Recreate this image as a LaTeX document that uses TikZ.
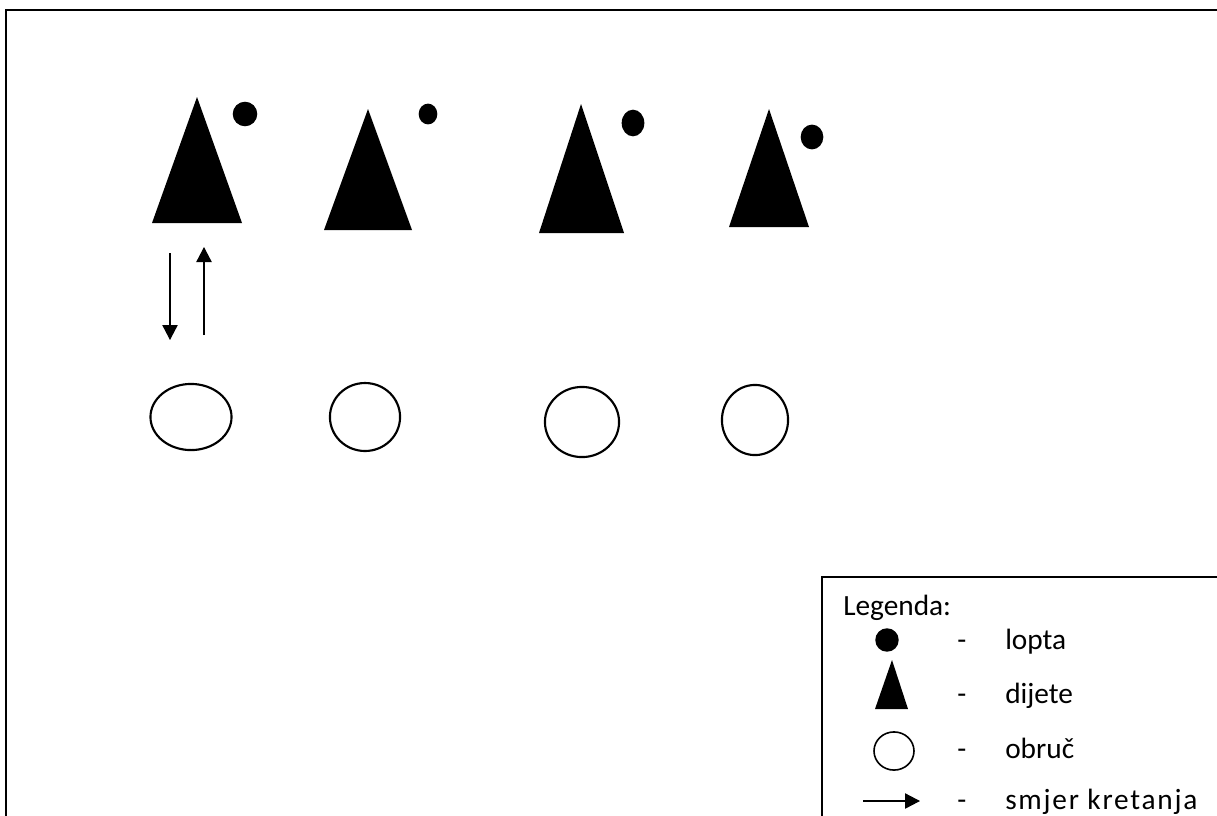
\documentclass[tikz,border=0pt]{standalone}
\usepackage{fontspec}
\setmainfont{Carlito}
\usetikzlibrary{arrows.meta}
\begin{document}
\begin{tikzpicture}[x=0.75pt,y=-0.75pt,
  child/.style={fill=black},
  ball/.style={fill=black},
  hoop/.style={draw=black,line width=1.6pt},
  move/.style={line width=0.9pt,-{Triangle[length=11.25pt,width=11.5pt]}},
  lbl/.style={anchor=base west,font=\fontsize{22}{26}\selectfont,inner sep=0pt}]
\useasboundingbox (0,0) rectangle (1217,815);
\begin{scope}
\clip (0,0) rectangle (1217,815);
\draw[line width=1.8pt] (6,10) rectangle (1240,840);
\draw[line width=1.2pt] (822,577) rectangle (1240,840);
\end{scope}
% children
\fill[child] (197,97) -- (242,223) -- (152,223) -- cycle;
\fill[child] (368,109) -- (412,230) -- (324,230) -- cycle;
\fill[child] (581,104) -- (624,233) -- (539,233) -- cycle;
\fill[child] (769,109) -- (809,227) -- (729,227) -- cycle;
% balls
\fill[ball] (245,114) ellipse[x radius=9.2pt, y radius=9.2pt];
\fill[ball] (428,114) ellipse[x radius=7pt, y radius=7.8pt];
\fill[ball] (633,123) ellipse[x radius=8.5pt, y radius=10pt];
\fill[ball] (812,137) ellipse[x radius=8.5pt, y radius=9.3pt];
% hoops
\draw[hoop] (191,417) ellipse[x radius=30.4pt, y radius=24.8pt];
\draw[hoop] (365,417) ellipse[x radius=26.3pt, y radius=25.5pt];
\draw[hoop] (582,422) ellipse[x radius=27.8pt, y radius=26.3pt];
\draw[hoop] (755,420) ellipse[x radius=24.8pt, y radius=26.3pt];
% movement arrows
\coordinate (d1) at (170,253);
\coordinate (d2) at (170,340);
\coordinate (u1) at (204,335);
\coordinate (u2) at (204,247);
\draw[move] (d1) -- (d2);
\draw[move] (u1) -- (u2);
% legend
\node[lbl] (leg) at (843,615) {Legenda:};
\fill[ball] (887,640) ellipse[x radius=8.8pt, y radius=8.8pt];
\fill[child] (892,660) -- (908,709) -- (875,709) -- cycle;
\draw[hoop,line width=1.2pt] (894,751) ellipse[x radius=15pt, y radius=14.3pt];
\coordinate (la1) at (863,801);
\coordinate (la2) at (920,801);
\draw[move] (la1) -- (la2);
\node[lbl] (h1) at (957,649) {-};
\node[lbl] (h2) at (957,703) {-};
\node[lbl] (h3) at (957,758) {-};
\node[lbl] (h4) at (957,809) {-};
\node[lbl] (t1) at (1005,649) {lopta};
\node[lbl] (t2) at (1005,703) {dijete};
\node[lbl] (t3) at (1005,758) {obruč};
\node[lbl] (t4) at (1005,809) {\addfontfeature{LetterSpace=6}smjer kretanja};
\end{tikzpicture}
\end{document}
